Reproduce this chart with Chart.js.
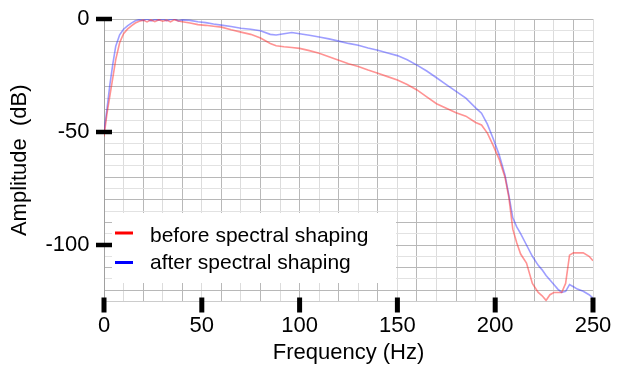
<!DOCTYPE html>
<html><head><meta charset="utf-8">
<script src="https://cdn.jsdelivr.net/npm/chart.js@4"></script>
<style>html,body{margin:0;padding:0;background:#fff}#wrap{width:620px;height:368px}</style>
</head><body><div id="wrap"><canvas id="c" width="620" height="368"></canvas></div>
<script>
const freqHz = [0,1.5,3,4.5,6,8,10,12,14,16,18,20,22,24,26,28,30,32,34,36,38,40,44,48,52,56,60,65,70,75,80,85,88,92,96,100,105,110,115,120,125,130,135,140,145,150,155,160,165,170,175,180,185,190,193,196,199,202,205,207,209,211,213,216,219,222,224,226,228,230,232,234,236,238,240,242,245,248,250];
const beforeShaping = [-52,-42,-34,-26,-18,-10.5,-6.5,-4.5,-3,-1.8,-1.0,-0.5,-1.3,-0.4,-1.2,-0.3,-1.0,-0.5,-1.3,-0.3,-0.9,-1.2,-1.8,-2.5,-2.8,-3.2,-3.6,-4.8,-5.8,-6.8,-8.4,-10.8,-11.8,-12.3,-12.6,-13,-14,-15.2,-16.7,-18.3,-19.8,-21,-22.6,-24,-25.5,-27,-29,-31.4,-34.5,-37.5,-39.5,-41.5,-43,-45.8,-46.9,-50.5,-56,-62,-70,-79,-93,-99,-104,-108,-117,-121,-122.5,-124.5,-122,-121,-121,-121,-117,-104.5,-103.5,-103.5,-103.5,-105,-107];
const afterShaping = [-50,-40,-29,-20,-12,-7,-4.5,-3,-1.8,-0.8,-0.3,-0.6,0,-0.8,-0.2,-0.5,0,-0.7,-0.2,0,-0.8,-0.4,-0.6,-1.2,-1.6,-2.2,-2.7,-3.3,-4.1,-4.5,-5.2,-6.8,-7.1,-6.5,-6.0,-6.5,-7.2,-8.0,-8.8,-9.8,-10.8,-11.6,-12.8,-13.8,-15,-16.2,-18,-20.4,-23,-26,-29,-32,-35,-39.3,-41.7,-46.5,-53,-60,-69,-78,-88,-92,-95,-100,-105,-109,-111,-113.5,-115.5,-117.5,-119.5,-121,-120.5,-117.5,-118.5,-119.5,-120.5,-122,-123.5];
const xTickLabels = [0,50,100,150,200,250];
const yTickLabels = [0,-50,-100];
const seriesNames = ['before spectral shaping','after spectral shaping'];
const legendColors = ['#ff0000','#0000ff'];

const FONT = 'Liberation Sans, Arial, sans-serif';

const decorations = {
  id: 'decorations',
  afterDraw(chart) {
    const ctx = chart.ctx, xs = chart.scales.x, ys = chart.scales.y, a = chart.chartArea;
    ctx.save();
    ctx.fillStyle = '#000';
    yTickLabels.forEach(v => {
      const py = ys.getPixelForValue(v);
      ctx.fillRect(a.left - 8, py - 2.25, 16, 4.5);
    });
    xTickLabels.forEach(v => {
      const px = xs.getPixelForValue(v);
      ctx.fillRect(px - 2.5, a.bottom - 4, 5, 15);
    });
    // legend
    ctx.fillStyle = '#fff';
    ctx.fillRect(112, 213, 284, 70);
    const rows = [{ly: 233, ty: 236}, {ly: 262.5, ty: 263}];
    ctx.font = '21px ' + FONT;
    ctx.textBaseline = 'middle';
    ctx.textAlign = 'left';
    chart.data.datasets.forEach((ds, i) => {
      ctx.strokeStyle = legendColors[i];
      ctx.lineWidth = 3;
      ctx.beginPath();
      ctx.moveTo(115, rows[i].ly);
      ctx.lineTo(133, rows[i].ly);
      ctx.stroke();
      ctx.fillStyle = '#000';
      ctx.fillText(ds.label, 150, rows[i].ty);
    });
    ctx.restore();
  }
};

function zeroPad(s) { s.paddingTop = 0; s.paddingBottom = 0; s.paddingLeft = 0; s.paddingRight = 0; }

new Chart(document.getElementById('c').getContext('2d'), {
  type: 'line',
  data: {
    datasets: [
      {label: seriesNames[0], data: freqHz.map((f, i) => ({x: f, y: beforeShaping[i]})),
       borderColor: 'rgba(255,40,40,0.5)', borderWidth: 1.6, pointRadius: 0, tension: 0, fill: false},
      {label: seriesNames[1], data: freqHz.map((f, i) => ({x: f, y: afterShaping[i]})),
       borderColor: 'rgba(40,40,255,0.45)', borderWidth: 1.6, pointRadius: 0, tension: 0, fill: false}
    ]
  },
  options: {
    responsive: false, animation: false, devicePixelRatio: 1,
    layout: {padding: {left: 0, top: 19, right: 27, bottom: 0}},
    plugins: {legend: {display: false}, tooltip: {enabled: false}},
    scales: {
      x: {
        type: 'linear', min: 0, max: 250, position: 'bottom',
        ticks: {stepSize: 10, autoSkip: false, maxRotation: 0, padding: 11, color: '#000',
                font: {family: FONT, size: 22},
                callback: v => xTickLabels.includes(v) ? String(v) : ''},
        grid: {drawTicks: false, lineWidth: 1,
               color: c => (c.tick && c.tick.value % 20 === 0) ? '#b8b8b8' : '#dcdcdc'},
        border: {display: true, color: '#cccccc'},
        title: {display: true, text: 'Frequency (Hz)', color: '#000',
                font: {family: FONT, size: 22}, padding: {top: 0, bottom: 2}},
        afterFit: s => { s.height = 66.5; zeroPad(s); }
      },
      y: {
        type: 'linear', min: -125, max: 0,
        ticks: {stepSize: 5, autoSkip: false, padding: 14.5, color: '#000',
                font: {family: FONT, size: 22},
                callback: v => yTickLabels.includes(v) ? String(v) : ''},
        grid: {drawTicks: false, lineWidth: 1,
               color: c => (c.tick && c.tick.value % 10 === 0) ? '#b8b8b8' : '#e2e2e2'},
        border: {display: true, color: '#a0a0a0'},
        title: {display: true, text: 'Amplitude  (dB)', color: '#000',
                font: {family: FONT, size: 22}, padding: {top: 7, bottom: 0}},
        afterFit: s => { s.width = 104; zeroPad(s); }
      }
    }
  },
  plugins: [decorations]
});
</script>
</body></html>
